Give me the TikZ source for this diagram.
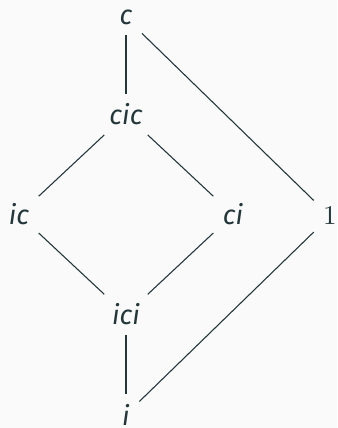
\documentclass[tikz,border=0pt]{standalone}
\usepackage[no-math]{fontspec}
\setmainfont{Fira Sans}
\usepackage{tikz}

\definecolor{fgtext}{HTML}{23373B}
\definecolor{bgpage}{HTML}{FAFAFA}

\begin{document}
\begin{tikzpicture}[x=1.3cm, y=1.3cm,
    word/.style={anchor=base, text=fgtext, font=\itshape},
    edge/.style={draw=fgtext, thin}]

    \useasboundingbox[fill=bgpage] (0,0) rectangle (3.37,4.28);

    \node[word] (c)   at (1.26,4.03) {c};
    \node[word] (cic) at (1.26,3.03) {cic};
    \node[word] (ic)  at (0.19,2.03) {ic};
    \node[word] (ci)  at (2.33,2.03) {ci};
    \node[word] (one) at (3.30,2.03) {$1$};
    \node[word] (ici) at (1.26,1.03) {ici};
    \node[word] (i)   at (1.26,0.03) {i};

    % the diamond in the middle
    \path[edge] (c) -- (cic);
    \path[edge] (cic) -- (ic);
    \path[edge] (cic) -- (ci);
    \path[edge] (ic) -- (ici);
    \path[edge] (ci) -- (ici);
    \path[edge] (ici) -- (i);

    % round the outside through 1
    \path[edge] (c) -- (one);
    \path[edge] (one) -- (i);

\end{tikzpicture}
\end{document}
